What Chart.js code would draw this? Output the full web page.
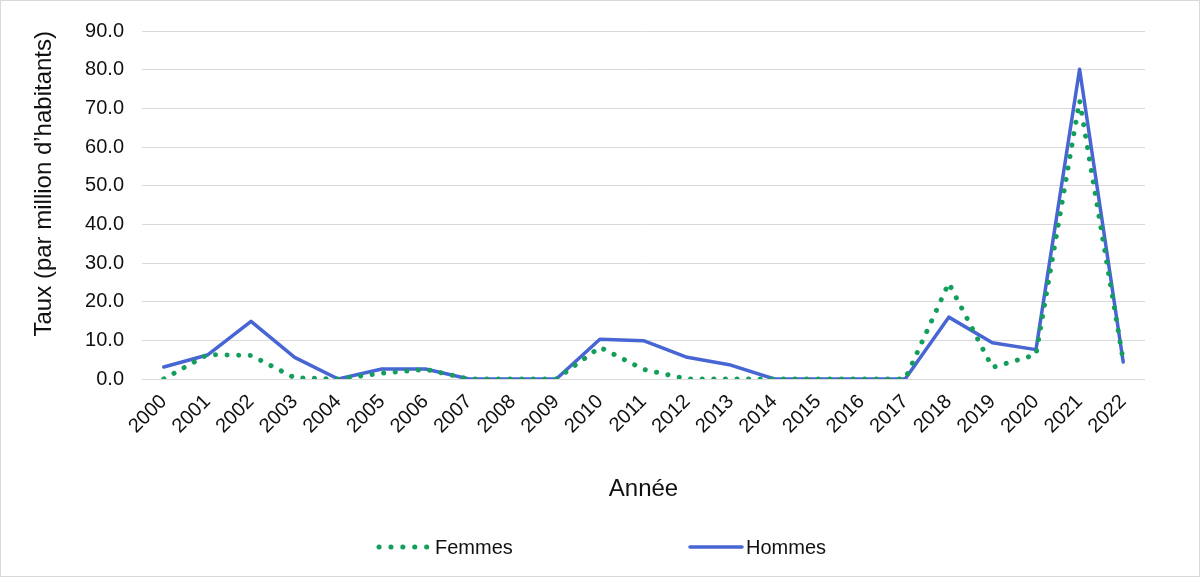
<!DOCTYPE html>
<html>
<head>
<meta charset="utf-8">
<script src="https://cdn.jsdelivr.net/npm/chart.js@4/dist/chart.umd.min.js"></script>
<style>
  body { margin: 0; background: #fff; }
  #cadre { width: 1200px; height: 577px; box-sizing: border-box; border: 1px solid #d9d9d9; position: relative; }
</style>
</head>
<body>
<div id="cadre"><canvas id="graphique"></canvas></div>
<script>
// données
const annees = ['2000','2001','2002','2003','2004','2005','2006','2007','2008','2009','2010',
  '2011','2012','2013','2014','2015','2016','2017','2018','2019','2020','2021','2022'];
const femmes = [0, 6.3, 6.1, 0.3, 0, 1.5, 2.5, 0, 0, 0, 8.2,
  2.5, 0, 0, 0, 0, 0, 0, 24.8, 3.0, 6.3, 72.0, 4.8];
const hommes = [3.1, 6.2, 14.9, 5.6, 0, 2.6, 2.6, 0, 0, 0, 10.3,
  9.9, 5.6, 3.6, 0, 0, 0, 0, 16.0, 9.4, 7.6, 80.1, 4.4];
const ticksY = [0, 10, 20, 30, 40, 50, 60, 70, 80, 90];

const police = 'Liberation Sans, Arial, sans-serif';
const couleurTexte = '#111';
const ctx = document.getElementById('graphique').getContext('2d');

// légende dessinée à la main (les écarts d'Excel sont trop larges pour la légende intégrée)
const legendeBas = {
  id: 'legendeBas',
  afterDraw(chart) {
    const c = chart.ctx;
    const y = 546;
    const positions = [376, 687];
    c.save();
    chart.data.datasets.forEach((ds, i) => {
      const x = positions[i];
      c.strokeStyle = ds.borderColor;
      c.lineWidth = ds.borderWidth;
      c.lineCap = ds.borderCapStyle || 'butt';
      c.setLineDash(ds.borderDash ? [0.1, 11.8] : []);
      c.beginPath();
      c.moveTo(x + 2, y);
      c.lineTo(x + 54, y);
      c.stroke();
      c.setLineDash([]);
      c.fillStyle = couleurTexte;
      c.font = '20px ' + police;
      c.textBaseline = 'middle';
      c.fillText(ds.label, x + 58, y + 1);
    });
    c.restore();
  }
};

new Chart(ctx, {
  type: 'line',
  data: {
    labels: annees,
    datasets: [{
      label: 'Femmes',
      data: femmes,
      borderColor: '#139f5b',
      backgroundColor: '#139f5b',
      borderWidth: 5,
      borderDash: [0.1, 11.5],
      borderCapStyle: 'round',
      pointRadius: 0,
      tension: 0
    }, {
      label: 'Hommes',
      data: hommes,
      borderColor: '#4766d4',
      backgroundColor: '#4766d4',
      borderWidth: 3.5,
      borderCapStyle: 'round',
      borderJoinStyle: 'round',
      pointRadius: 0,
      tension: 0
    }]
  },
  options: {
    responsive: true,
    maintainAspectRatio: false,
    animation: false,
    layout: { padding: { top: 27, right: 54, bottom: 57, left: 0 } },
    plugins: {
      tooltip: { enabled: false },
      legend: { display: false }
    },
    scales: {
      x: {
        offset: true,
        grid: { display: false },
        border: { display: false },
        ticks: {
          color: couleurTexte,
          font: { family: police, size: 20 },
          minRotation: 45,
          maxRotation: 45,
          autoSkip: false
        },
        title: {
          display: true,
          text: 'Année',
          color: couleurTexte,
          font: { family: police, size: 24 },
          padding: { top: 10, bottom: 15 }
        },
        afterFit: scale => { scale.height = 140; }
      },
      y: {
        min: 0,
        max: 90,
        afterBuildTicks: scale => { scale.ticks = ticksY.map(v => ({ value: v })); },
        grid: { color: '#d9d9d9', lineWidth: 1, drawTicks: false },
        border: { display: false },
        ticks: {
          color: couleurTexte,
          padding: 18,
          autoSkip: false,
          font: { family: police, size: 20 },
          callback: v => v.toFixed(1)
        },
        title: {
          display: true,
          text: 'Taux (par million d\u2019habitants)',
          align: 'end',
          color: couleurTexte,
          font: { family: police, size: 24 },
          padding: { top: 29, bottom: 0 }
        },
        afterFit: scale => { scale.width = 141; }
      }
    }
  },
  plugins: [legendeBas]
});
</script>
</body>
</html>
